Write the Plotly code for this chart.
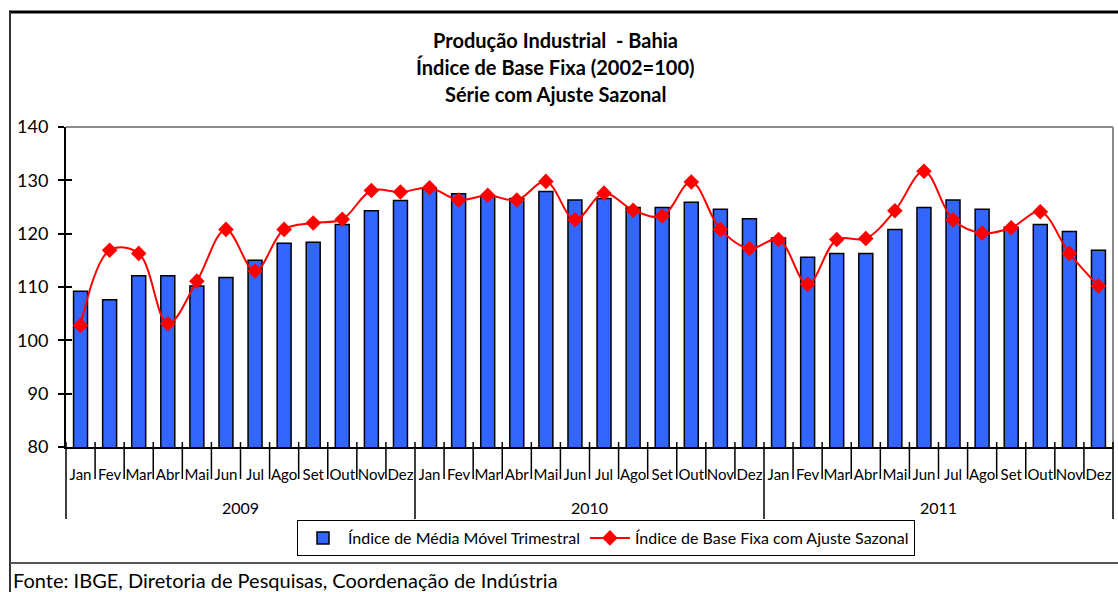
import plotly.graph_objects as go

# ---------------- data ----------------
years = ["2009", "2010", "2011"]
months = ["Jan", "Fev", "Mar", "Abr", "Mai", "Jun", "Jul", "Ago", "Set", "Out", "Nov", "Dez"]

media_movel = [
    109.2, 107.6, 112.1, 112.1, 110.2, 111.8, 115.0, 118.2, 118.4, 121.7, 124.3, 126.2,
    128.4, 127.5, 127.1, 126.6, 127.9, 126.3, 126.6, 124.9, 124.9, 125.9, 124.6, 122.8,
    119.2, 115.6, 116.3, 116.3, 120.8, 124.9, 126.3, 124.6, 121.2, 121.7, 120.4, 116.9,
]
ajuste_sazonal = [
    102.8, 116.9, 116.3, 103.1, 111.1, 120.8, 113.0, 120.8, 122.0, 122.7, 128.1, 127.8,
    128.6, 126.3, 127.2, 126.3, 129.8, 122.6, 127.6, 124.4, 123.3, 129.7, 120.8, 117.2,
    118.9, 110.5, 118.9, 119.1, 124.3, 131.7, 122.6, 120.1, 121.1, 124.1, 116.3, 110.2,
]

title_lines = ["Produção Industrial  - Bahia", "Índice de Base Fixa (2002=100)", "Série com Ajuste Sazonal"]
series_names = ["Índice de Média Móvel Trimestral", "Índice de Base Fixa com Ajuste Sazonal"]
source_text = "Fonte: IBGE, Diretoria de Pesquisas, Coordenação de Indústria"

categories = [f"{m} {y}" for y in years for m in months]
tick_labels = months * len(years)

# ---------------- layout geometry (pixels) ----------------
W, H = 1118, 592
L, R, T, B = 66, 5, 127, 145
PW = W - L - R
PH = H - T - B
FONT = "Lato, 'Open Sans', sans-serif"


def px_x(px):
    return (px - L) / PW


def px_y(py):
    return (H - B - py) / PH


fig = go.Figure()
fig.add_trace(go.Bar(
    x=categories, y=media_movel, name=series_names[0],
    marker=dict(color="#3366FF", line=dict(color="black", width=1.5)),
    width=0.48,
))
fig.add_trace(go.Scatter(
    x=categories, y=ajuste_sazonal, name=series_names[1], mode="lines+markers",
    line=dict(color="#FF0000", width=2, shape="spline", smoothing=1.0),
    marker=dict(symbol="diamond", size=12, color="#FF0000"),
))

shapes = []
n = len(categories)
# separators below x axis
for k in range(n + 1):
    bottom = 519 if k % 12 == 0 else 479
    shapes.append(dict(type="line", xref="paper", yref="paper",
                       x0=k / n, x1=k / n, y0=px_y(442), y1=px_y(bottom),
                       line=dict(color="black", width=1.5)))
# plot-area border (top & right, gray)
shapes.append(dict(type="line", xref="paper", yref="paper", x0=0, x1=1, y0=1, y1=1,
                   line=dict(color="#8c8c8c", width=2), layer="below"))
shapes.append(dict(type="line", xref="paper", yref="paper", x0=1, x1=1, y0=0, y1=1,
                   line=dict(color="#8c8c8c", width=2), layer="below"))
# outer chart frame
shapes.append(dict(type="line", xref="paper", yref="paper", x0=px_x(9), x1=px_x(1125),
                   y0=px_y(12), y1=px_y(12), line=dict(color="black", width=3)))
shapes.append(dict(type="line", xref="paper", yref="paper", x0=px_x(10), x1=px_x(10),
                   y0=px_y(12), y1=px_y(600), line=dict(color="#333333", width=2)))
shapes.append(dict(type="line", xref="paper", yref="paper", x0=px_x(10), x1=px_x(1125),
                   y0=px_y(563), y1=px_y(563), line=dict(color="#555555", width=2)))

annotations = []
for i, t in enumerate(title_lines):
    annotations.append(dict(text=f"<b>{t}</b>", xref="paper", yref="paper",
                            x=px_x(555), y=px_y(40 + 27 * i), xanchor="center", yanchor="middle",
                            showarrow=False, font=dict(family=FONT, size=20, color="black")))
for i, yv in enumerate(years):
    annotations.append(dict(text=yv, xref="paper", yref="paper",
                            x=(12 * i + 6) / n, y=px_y(507), xanchor="center", yanchor="middle",
                            showarrow=False, font=dict(family=FONT, size=16, color="black")))
annotations.append(dict(text=source_text, xref="paper", yref="paper",
                        x=px_x(11), y=px_y(580), xanchor="left", yanchor="middle",
                        showarrow=False, font=dict(family=FONT, size=20, color="black")))

fig.update_layout(
    width=W, height=H,
    margin=dict(l=L, r=R, t=T, b=B, pad=0),
    paper_bgcolor="white", plot_bgcolor="white",
    font=dict(family=FONT, color="black"),
    showlegend=True,
    legend=dict(orientation="h", x=px_x(297), y=px_y(520), xanchor="left", yanchor="top",
                bordercolor="black", borderwidth=1, bgcolor="white",
                font=dict(family=FONT, size=16, color="black"),
                tracegroupgap=0, itemwidth=40),
    bargap=0.52,
    xaxis=dict(type="category", categoryorder="array", categoryarray=categories,
               tickmode="array", tickvals=categories, ticktext=tick_labels,
               ticks="", showline=True, linecolor="black", linewidth=2,
               showgrid=False, zeroline=False, ticklabelstandoff=13,
               tickfont=dict(family=FONT, size=15, color="black"), tickangle=0,
               range=[-0.5, n - 0.5]),
    yaxis=dict(range=[80, 140], dtick=10, tick0=80, showline=True, linecolor="black", linewidth=2,
               ticks="outside", ticklen=6, tickwidth=1.5, tickcolor="black",
               showgrid=False, zeroline=False, ticklabelstandoff=6,
               tickfont=dict(family=FONT, size=18, color="black")),
    yaxis2=dict(overlaying="y", matches="y", side="left", range=[80, 140], dtick=10, tick0=80,
                ticks="inside", ticklen=6, tickwidth=1.5, tickcolor="black",
                showticklabels=False, showgrid=False, zeroline=False, showline=False),
    shapes=shapes,
    annotations=annotations,
)
# invisible helper trace so the overlaid axis draws its inside ticks
fig.add_trace(go.Scatter(x=[categories[0]], y=[ajuste_sazonal[0]], yaxis="y2", mode="markers",
                         marker=dict(opacity=0), showlegend=False, hoverinfo="skip"))

fig.write_html("out.html", config={"displayModeBar": False},
               post_script="document.body.style.margin='0px';")
